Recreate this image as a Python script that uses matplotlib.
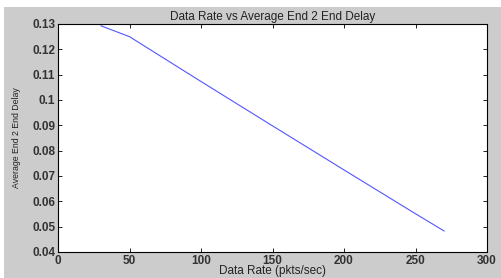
import matplotlib
matplotlib.use("Agg")
import matplotlib.pyplot as plt
from matplotlib.patches import Rectangle

# Data
data_rate = [30, 50, 100, 150, 200, 250, 270]
avg_delay = [0.1293, 0.1250, 0.1073, 0.0898, 0.0724, 0.0551, 0.0483]
x_ticks = [0, 50, 100, 150, 200, 250, 300]
y_ticks = [0.04, 0.05, 0.06, 0.07, 0.08, 0.09, 0.1, 0.11, 0.12, 0.13]
y_tick_labels = ["0.04", "0.05", "0.06", "0.07", "0.08", "0.09", "0.1", "0.11", "0.12", "0.13"]

plt.rcParams["font.family"] = ["Liberation Sans", "DejaVu Sans"]

W, H = 502, 278
fig = plt.figure(figsize=(W / 100, H / 100), dpi=100, facecolor="white")
# gray figure panel (white strip only along top and left edge)
fig.patches.append(Rectangle((4 / W, 0), 1, 1 - 7 / H, transform=fig.transFigure,
                             facecolor="#cccccc", edgecolor="none", zorder=-1))

ax = fig.add_axes([58 / W, 26 / H, (487 - 58) / W, (254 - 26) / H])
ax.plot(data_rate, avg_delay, color="#5555ff", lw=0.8)

ax.set_xlim(0, 300)
ax.set_ylim(0.04, 0.13)
ax.set_xticks(x_ticks)
ax.set_yticks(y_ticks)
ax.set_yticklabels(y_tick_labels)
ax.tick_params(direction="in", top=True, right=True, length=3, width=0.6,
               labelsize=8.5, labelcolor="#333333", pad=2)
for lbl in ax.get_xticklabels() + ax.get_yticklabels():
    lbl.set_fontweight("bold")
for s in ax.spines.values():
    s.set_linewidth(0.8)

ax.set_title("Data Rate vs Average End 2 End Delay", fontsize=8.5, color="#222222", pad=3)
ax.set_xlabel("Data Rate (pkts/sec)", fontsize=8.5, color="#222222", labelpad=-1)
ax.set_ylabel("Average End 2 End Delay", fontsize=6.3, color="#222222", labelpad=8)

fig.savefig("out.png", dpi=100)
